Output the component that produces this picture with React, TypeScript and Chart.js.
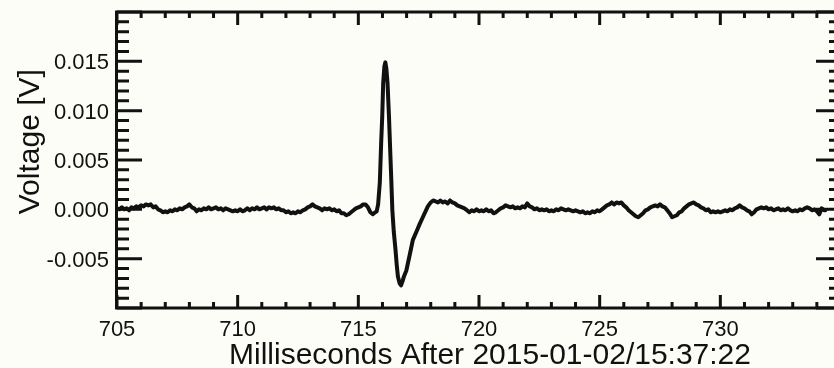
import React, { useEffect, useRef } from "react";
import { Chart, registerables } from "chart.js";

Chart.register(...registerables);

// ---- data ----
const TIME_MS = [
  705.0, 705.1, 705.2, 705.3, 705.4, 705.5, 705.6, 705.7, 705.8, 705.9,
  706.0, 706.1, 706.2, 706.3, 706.4, 706.5, 706.6, 706.7, 706.8, 706.9,
  707.0, 707.1, 707.2, 707.3, 707.4, 707.5, 707.6, 707.7, 707.8, 707.9,
  708.0, 708.1, 708.2, 708.3, 708.4, 708.5, 708.6, 708.7, 708.8, 708.9,
  709.0, 709.1, 709.2, 709.3, 709.4, 709.5, 709.6, 709.7, 709.8, 709.9,
  710.0, 710.1, 710.2, 710.3, 710.4, 710.5, 710.6, 710.7, 710.8, 710.9,
  711.0, 711.1, 711.2, 711.3, 711.4, 711.5, 711.6, 711.7, 711.8, 711.9,
  712.0, 712.1, 712.2, 712.3, 712.4, 712.5, 712.6, 712.7, 712.8, 712.9,
  713.0, 713.1, 713.2, 713.3, 713.4, 713.5, 713.6, 713.7, 713.8, 713.9,
  714.0, 714.1, 714.2, 714.3, 714.4, 714.5, 714.6, 714.7, 714.8, 714.9,
  715.0, 715.1, 715.2, 715.3, 715.4, 715.5, 715.6, 715.7, 715.76,
  715.82, 715.89, 715.95, 715.99, 716.03, 716.08, 716.12, 716.16, 716.21, 716.27,
  716.32, 716.37, 716.41, 716.47, 716.54, 716.59, 716.64, 716.71, 716.77, 716.83,
  716.89, 716.99, 717.13, 717.26, 717.42, 717.54, 717.71, 717.88,
  718.0, 718.1, 718.2, 718.3, 718.4, 718.5, 718.6, 718.7, 718.8, 718.9,
  719.0, 719.1, 719.2, 719.3, 719.4, 719.5, 719.6, 719.7, 719.8, 719.9,
  720.0, 720.1, 720.2, 720.3, 720.4, 720.5, 720.6, 720.7, 720.8, 720.9,
  721.0, 721.1, 721.2, 721.3, 721.4, 721.5, 721.6, 721.7, 721.8, 721.9,
  722.0, 722.1, 722.2, 722.3, 722.4, 722.5, 722.6, 722.7, 722.8, 722.9,
  723.0, 723.1, 723.2, 723.3, 723.4, 723.5, 723.6, 723.7, 723.8, 723.9,
  724.0, 724.1, 724.2, 724.3, 724.4, 724.5, 724.6, 724.7, 724.8, 724.9,
  725.0, 725.1, 725.2, 725.3, 725.4, 725.5, 725.6, 725.7, 725.8, 725.9,
  726.0, 726.1, 726.2, 726.3, 726.4, 726.5, 726.6, 726.7, 726.8, 726.9,
  727.0, 727.1, 727.2, 727.3, 727.4, 727.5, 727.6, 727.7, 727.8, 727.9,
  728.0, 728.1, 728.2, 728.3, 728.4, 728.5, 728.6, 728.7, 728.8, 728.9,
  729.0, 729.1, 729.2, 729.3, 729.4, 729.5, 729.6, 729.7, 729.8, 729.9,
  730.0, 730.1, 730.2, 730.3, 730.4, 730.5, 730.6, 730.7, 730.8, 730.9,
  731.0, 731.1, 731.2, 731.3, 731.4, 731.5, 731.6, 731.7, 731.8, 731.9,
  732.0, 732.1, 732.2, 732.3, 732.4, 732.5, 732.6, 732.7, 732.8, 732.9,
  733.0, 733.1, 733.2, 733.3, 733.4, 733.5, 733.6, 733.7, 733.8, 733.9,
  734.0, 734.1, 734.2, 734.3, 734.35,
];

const VOLTAGE = [
  0.0001, 0.0, 0.0002, 0.0, 0.0001, -0.0001, 0.0002, 0.0001, 0.0003, 0.0002,
  0.0004, 0.0003, 0.0005, 0.0004, 0.0005, 0.0002, 0.0003, 0.0, -0.0001, -0.0003,
  -0.0002, -0.0003, -0.0001, -0.0002, 0.0, -0.0001, 0.0001, 0.0, 0.0002, 0.0003,
  0.0005, 0.0002, 0.0001, -0.0002, 0.0, -0.0001, 0.0001, 0.0, 0.0002, 0.0,
  0.0001, 0.0002, 0.0, 0.0001, -0.0001, 0.0001, 0.0, -0.0001, -0.0002, -0.0001,
  -0.0002, 0.0, -0.0002, -0.0001, 0.0001, -0.0001, 0.0001, 0.0, 0.0002, 0.0,
  0.0001, 0.0002, 0.0, 0.0002, 0.0001, 0.0002, 0.0, 0.0001, -0.0001, -0.0001,
  -0.0003, -0.0002, -0.0004, -0.0003, -0.0004, -0.0002, -0.0003, -0.0001, 0.0, 0.0002,
  0.0003, 0.0005, 0.0003, 0.0002, 0.0001, -0.0001, 0.0001, 0.0, 0.0001, -0.0001,
  0.0, -0.0002, -0.0001, -0.0004, -0.0004, -0.0006, -0.0005, -0.0003, -0.0001, 0.0001,
  0.0002, 0.0003, 0.0005, 0.0005, 0.0002, -0.0003, -0.0005, -0.0003, -0.0002,
  0.0005, 0.0027, 0.007, 0.0094, 0.0128, 0.0145, 0.0149, 0.0143, 0.0128, 0.0094,
  0.006, 0.0027, -0.0001, -0.0023, -0.0041, -0.0056, -0.0068, -0.0075, -0.0077, -0.0073,
  -0.0068, -0.0062, -0.0046, -0.0031, -0.0022, -0.0015, -0.0006, 0.0003,
  0.0007, 0.0009, 0.0008, 0.0007, 0.0009, 0.0007, 0.0008, 0.0006, 0.0009, 0.0007,
  0.0006, 0.0004, 0.0003, 0.0002, 0.0001, -0.0001, -0.0003, -0.0001, -0.0002, 0.0,
  -0.0002, -0.0001, -0.0002, 0.0, -0.0002, -0.0001, -0.0004, -0.0003, -0.0001, 0.0001,
  0.0002, 0.0004, 0.0003, 0.0002, 0.0003, 0.0001, 0.0002, 0.0001, 0.0003, 0.0002,
  0.0006, 0.0003, 0.0002, 0.0, 0.0001, -0.0001, 0.0, -0.0001, 0.0, -0.0002,
  -0.0001, -0.0002, 0.0, -0.0001, 0.0001, 0.0, -0.0001, 0.0, -0.0001, -0.0002,
  -0.0001, -0.0002, -0.0003, -0.0002, -0.0004, -0.0003, -0.0004, -0.0002, -0.0003, -0.0001,
  -0.0002, 0.0, 0.0002, 0.0004, 0.0005, 0.0007, 0.0005, 0.0007, 0.0006, 0.0007,
  0.0004, 0.0002, -0.0001, -0.0003, -0.0005, -0.0007, -0.0008, -0.0006, -0.0004, -0.0001,
  0.0, 0.0002, 0.0003, 0.0004, 0.0003, 0.0005, 0.0003, 0.0002, -0.0001, -0.0004,
  -0.0008, -0.0007, -0.0006, -0.0003, -0.0002, 0.0001, 0.0003, 0.0005, 0.0006, 0.0007,
  0.0005, 0.0004, 0.0002, 0.0001, -0.0001, 0.0, -0.0003, -0.0002, -0.0003, -0.0002,
  -0.0003, -0.0002, -0.0001, -0.0002, 0.0, -0.0001, 0.0001, 0.0002, 0.0004, 0.0002,
  0.0001, -0.0001, -0.0002, -0.0005, -0.0003, 0.0, 0.0001, 0.0002, 0.0001, 0.0002,
  0.0, 0.0001, -0.0001, 0.0, 0.0001, -0.0001, 0.0, -0.0001, 0.0001, -0.0001,
  -0.0002, -0.0001, -0.0002, 0.0, -0.0001, 0.0001, 0.0002, 0.0001, -0.0001, 0.0,
  -0.0002, -0.0005, 0.0001, -0.0001, -0.0001,
];

const X_LABELED_TICKS = [705, 710, 715, 720, 725, 730];
const Y_LABELED_TICKS = [-0.005, 0.0, 0.005, 0.01, 0.015];
const X_TITLE = "Milliseconds After 2015-01-02/15:37:22";
const Y_TITLE = "Voltage [V]";

const X_MIN = 705;
const X_MAX = 735;
const Y_MIN = -0.01;
const Y_MAX = 0.02;

const INK = "#111111";
const BG = "#fdfdf7";
const FONT = "'Liberation Sans', Arial, Helvetica, sans-serif";

const CANVAS_W = 850;
const CANVAS_H = 368;

const framePlugin = {
  id: "idlFrame",
  beforeDraw(chart: any) {
    const { ctx, width, height } = chart;
    ctx.save();
    ctx.fillStyle = BG;
    ctx.fillRect(0, 0, width, height);
    ctx.restore();
  },
  afterDraw(chart: any) {
    const { ctx, chartArea } = chart;
    const { left, top, right, bottom } = chartArea;
    const xs = chart.scales.x;
    const ys = chart.scales.y;
    ctx.save();
    ctx.strokeStyle = INK;
    ctx.lineWidth = 3;
    ctx.lineCap = "butt";
    ctx.beginPath();
    ctx.rect(left - 0.5, top, right - left, bottom - top);
    ctx.stroke();

    ctx.beginPath();
    for (let i = 0; i <= 30; i++) {
      const px = xs.getPixelForValue(X_MIN + i);
      const len = i % 5 === 0 ? 13 : 6;
      ctx.moveTo(px, bottom);
      ctx.lineTo(px, bottom - len);
      ctx.moveTo(px, top);
      ctx.lineTo(px, top + len);
    }
    for (let i = 0; i <= 30; i++) {
      const py = ys.getPixelForValue(Y_MIN + i * 0.001);
      const len = i % 5 === 0 ? 25 : 12;
      ctx.moveTo(left, py);
      ctx.lineTo(left + len, py);
      ctx.moveTo(right, py);
      ctx.lineTo(right - len, py);
    }
    ctx.stroke();

    // axis titles
    ctx.fillStyle = INK;
    ctx.font = `30px ${FONT}`;
    ctx.textAlign = "center";
    ctx.textBaseline = "alphabetic";
    ctx.fillText(X_TITLE, 490, 364);

    ctx.translate(38.5, 141.7);
    ctx.rotate(-Math.PI / 2);
    ctx.fillText(Y_TITLE, 0, 0);
    ctx.restore();
  },
};

export default function App() {
  const ref = useRef<HTMLCanvasElement | null>(null);

  useEffect(() => {
    const canvas = ref.current;
    if (!canvas) return;
    const points = TIME_MS.map((t, i) => ({ x: t, y: VOLTAGE[i] }));
    const chart = new Chart(canvas, {
      type: "line",
      data: {
        datasets: [
          {
            data: points,
            borderColor: INK,
            borderWidth: 4,
            borderJoinStyle: "round",
            borderCapStyle: "round",
            pointRadius: 0,
            tension: 0,
            fill: false,
          },
        ],
      },
      options: {
        animation: false,
        responsive: false,
        devicePixelRatio: 1,
        layout: { padding: { top: 12, right: CANVAS_W - 841, left: 0, bottom: 0 } },
        plugins: { legend: { display: false }, tooltip: { enabled: false } },
        scales: {
          x: {
            type: "linear",
            min: X_MIN,
            max: X_MAX,
            afterFit: (s: any) => {
              s.height = 60;
              s.paddingLeft = 0;
              s.paddingRight = 0;
            },
            afterBuildTicks: (s: any) => {
              s.ticks = X_LABELED_TICKS.map((v) => ({ value: v }));
            },
            grid: { display: false, drawTicks: false },
            border: { display: false },
            ticks: {
              color: INK,
              padding: 9,
              maxRotation: 0,
              font: { family: FONT, size: 22 },
              callback: (v: any) => String(v),
            },
          },
          y: {
            type: "linear",
            min: Y_MIN,
            max: Y_MAX,
            afterFit: (s: any) => {
              s.width = 117;
              s.paddingTop = 0;
              s.paddingBottom = 0;
            },
            afterBuildTicks: (s: any) => {
              s.ticks = Y_LABELED_TICKS.map((v) => ({ value: v }));
            },
            grid: { display: false, drawTicks: false },
            border: { display: false },
            ticks: {
              color: INK,
              padding: 8,
              labelOffset: 2,
              font: { family: FONT, size: 22 },
              callback: (v: any) => Number(v).toFixed(3),
            },
          },
        },
      },
      plugins: [framePlugin],
    });
    return () => chart.destroy();
  }, []);

  return (
    <div
      style={{
        position: "fixed",
        left: 0,
        top: 0,
        width: 834,
        height: 368,
        overflow: "hidden",
        background: BG,
      }}
    >
      <canvas ref={ref} width={CANVAS_W} height={CANVAS_H} style={{ display: "block" }} />
    </div>
  );
}
